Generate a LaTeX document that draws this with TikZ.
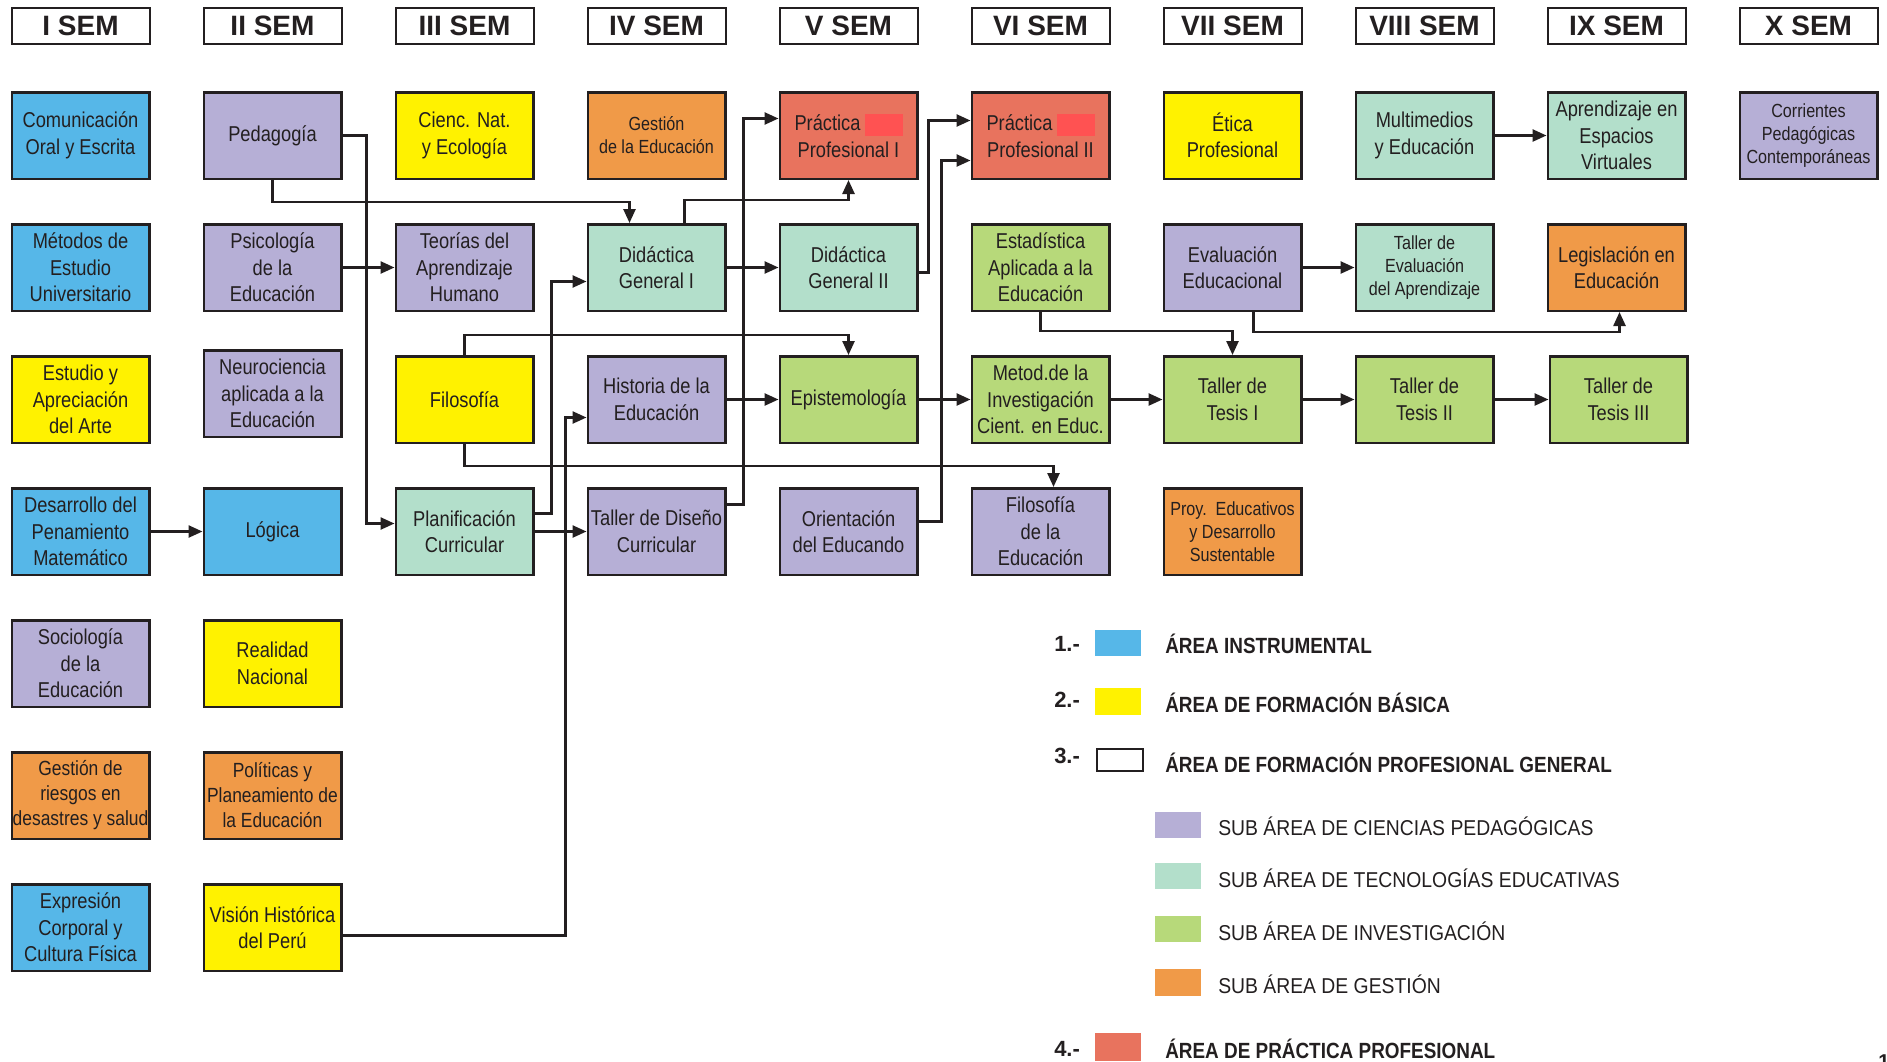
\documentclass[tikz,border=0pt]{standalone}
\usepackage{fontspec}
\setmainfont{Liberation Sans}[FakeStretch=0.85]
\newfontfamily\semfont{Liberation Sans}
\newfontfamily\leyfont{Liberation Sans}[FakeStretch=0.86]
\newfontfamily\subfont{Liberation Sans}[FakeStretch=0.9]
\usetikzlibrary{arrows.meta}

\definecolor{tinta}{HTML}{231F20}
\definecolor{azul}{HTML}{56B7E8}
\definecolor{amarillo}{HTML}{FFF200}
\definecolor{lila}{HTML}{B6AFD6}
\definecolor{menta}{HTML}{B3DFCB}
\definecolor{verde}{HTML}{B7D97A}
\definecolor{naranja}{HTML}{F09A48}
\definecolor{salmon}{HTML}{E8735E}
\definecolor{tapa}{HTML}{FF5252}

\begin{document}
\begin{tikzpicture}[x=1pt,y=-1pt,line width=2.5pt,color=tinta,
  >={Triangle[length=14pt,width=12pt]},
  sem/.style={draw,line width=2pt,fill=white,minimum width=138pt,minimum height=36pt,inner sep=0pt,
    font=\semfont\bfseries\fontsize{28}{30}\selectfont},
  curso/.style={draw,minimum width=137.5pt,minimum height=86.5pt,inner sep=0pt,align=center,
    font=\fontsize{21.5}{26.5}\selectfont},
  chico/.style={font=\fontsize{19}{23}\selectfont},
  medio/.style={font=\fontsize{20.5}{25}\selectfont},
  ley/.style={anchor=base west,inner sep=0pt,font=\leyfont\bfseries\fontsize{22}{26}\selectfont},
  subley/.style={anchor=base west,inner sep=0pt,font=\subfont\fontsize{21.5}{26}\selectfont},
  num/.style={anchor=base west,inner sep=0pt,font=\semfont\bfseries\fontsize{22}{26}\selectfont}]

\useasboundingbox (0,0) rectangle (1887,1061);

%% Semestres
\node [sem] (s1) at (80.5,26) {I SEM};
\node [sem] (s2) at (272.5,26) {II SEM};
\node [sem] (s3) at (464.5,26) {III SEM};
\node [sem] (s4) at (656.5,26) {IV SEM};
\node [sem] (s5) at (848.5,26) {V SEM};
\node [sem] (s6) at (1040.5,26) {VI SEM};
\node [sem] (s7) at (1232.5,26) {VII SEM};
\node [sem] (s8) at (1424.5,26) {VIII SEM};
\node [sem] (s9) at (1616.5,26) {IX SEM};
\node [sem] (s10) at (1808.5,26) {X SEM};

%% I SEM
\node [curso,fill=azul] (com) at (80.5,135.5) {Comunicación\\Oral y Escrita};
\node [curso,fill=azul] (metodos) at (80.5,267.5) {Métodos de\\Estudio\\Universitario};
\node [curso,fill=amarillo] (estudio) at (80.5,399.5) {Estudio y\\Apreciación\\del Arte};
\node [curso,fill=azul] (desarrollo) at (80.5,531.5) {Desarrollo del\\Penamiento\\Matemático};
\node [curso,fill=lila] (socio) at (80.5,663.5) {Sociología\\de la\\Educación};
\node [curso,fill=naranja,medio] (riesgos) at (80.5,795.5) {Gestión de\\riesgos en\\desastres y salud};
\node [curso,fill=azul] (expresion) at (80.5,927.5) {Expresión\\Corporal y\\Cultura Física};

%% II SEM
\node [curso,fill=lila] (ped) at (272.5,135.5) {Pedagogía};
\node [curso,fill=lila] (psico) at (272.5,267.5) {Psicología\\de la\\Educación};
\node [curso,fill=lila] (neuro) at (272.5,393.5) {Neurociencia\\aplicada a la\\Educación};
\node [curso,fill=azul] (logica) at (272.5,531.5) {Lógica};
\node [curso,fill=amarillo] (realidad) at (272.5,663.5) {Realidad\\Nacional};
\node [curso,fill=naranja,medio] (politicas) at (272.5,795.5) {Políticas y\\Planeamiento de\\la Educación};
\node [curso,fill=amarillo] (vision) at (272.5,927.5) {Visión Histórica\\del Perú};

%% III SEM
\node [curso,fill=amarillo] (cienc) at (464.5,135.5) {Cienc. Nat.\\y Ecología};
\node [curso,fill=lila] (teorias) at (464.5,267.5) {Teorías del\\Aprendizaje\\Humano};
\node [curso,fill=amarillo] (filo) at (464.5,399.5) {Filosofía};
\node [curso,fill=menta] (plan) at (464.5,531.5) {Planificación\\Curricular};

%% IV SEM
\node [curso,fill=naranja,chico] (gestion) at (656.5,135.5) {Gestión\\de la Educación};
\node [curso,fill=menta] (did1) at (656.5,267.5) {Didáctica\\General I};
\node [curso,fill=lila] (historia) at (656.5,399.5) {Historia de la\\Educación};
\node [curso,fill=lila] (tallerdc) at (656.5,531.5) {Taller de Diseño\\Curricular};

%% V SEM
\node [curso,fill=salmon] (prac1) at (848.5,135.5) {Práctica\hspace{4pt}{\color{tapa}\rule[-4.7pt]{38pt}{22pt}}\\Profesional I};
\node [curso,fill=menta] (did2) at (848.5,267.5) {Didáctica\\General II};
\node [curso,fill=verde] (episte) at (848.5,399.5) {Epistemología};
\node [curso,fill=lila] (orient) at (848.5,531.5) {Orientación\\del Educando};

%% VI SEM
\node [curso,fill=salmon] (prac2) at (1040.5,135.5) {Práctica\hspace{4pt}{\color{tapa}\rule[-4.7pt]{38pt}{22pt}}\\Profesional II};
\node [curso,fill=verde] (estad) at (1040.5,267.5) {Estadística\\Aplicada a la\\Educación};
\node [curso,fill=verde] (metod) at (1040.5,399.5) {Metod.de la\\Investigación\\Cient. en Educ.};
\node [curso,fill=lila] (filoedu) at (1040.5,531.5) {Filosofía\\de la\\Educación};

%% VII SEM
\node [curso,fill=amarillo] (etica) at (1232.5,135.5) {Ética\\Profesional};
\node [curso,fill=lila] (evalu) at (1232.5,267.5) {Evaluación\\Educacional};
\node [curso,fill=verde] (tesis1) at (1232.5,399.5) {Taller de\\Tesis I};
\node [curso,fill=naranja,chico] (proy) at (1232.5,531.5) {Proy.\ \ Educativos\\y Desarrollo\\Sustentable};

%% VIII SEM
\node [curso,fill=menta] (multi) at (1424.5,135.5) {Multimedios\\y Educación};
\node [curso,fill=menta,chico] (tallereval) at (1424.5,267.5) {Taller de\\Evaluación\\del Aprendizaje};
\node [curso,fill=verde] (tesis2) at (1424.5,399.5) {Taller de\\Tesis II};

%% IX SEM
\node [curso,fill=menta] (aprend) at (1616.5,135.5) {Aprendizaje en\\Espacios\\Virtuales};
\node [curso,fill=naranja] (legis) at (1616.5,267.5) {Legislación en\\Educación};
\node [curso,fill=verde] (tesis3) at (1618.5,399.5) {Taller de\\Tesis III};

%% X SEM
\node [curso,fill=lila,chico] (corr) at (1808.5,135.5) {Corrientes\\Pedagógicas\\Contemporáneas};

%% Flechas directas
\draw [->] (desarrollo) -- (logica);
\draw [->] (psico) -- (teorias);
\draw [->] (plan) -- (tallerdc);
\draw [->] (did1) -- (did2);
\draw [->] (historia) -- (episte);
\draw [->] (episte) -- (metod);
\draw [->] (metod) -- (tesis1);
\draw [->] (tesis1) -- (tesis2);
\draw [->] (tesis2) -- (tesis3);
\draw [->] (evalu) -- (tallereval);
\draw [->] (multi) -- (aprend);

%% Flechas con quiebre
\draw [->] (ped.east) -- ++(24,0) |- ([yshift=8pt]plan.west);
\draw [->] (ped.south) -- ++(0,22) -| ([xshift=-27pt]did1.north);
\draw [->] ([yshift=18pt]plan.east) -- ++(17,0) |- ([yshift=-14pt]did1.west);
\draw [->] ([yshift=-8pt]vision.east) -- ++(223,0) |- ([yshift=-18pt]historia.west);
\draw [->] (filo.north) -- ++(0,-20) -| (episte.north);
\draw [->] (filo.south) -- ++(0,22) -| ([xshift=13pt]filoedu.north);
\draw [->] ([xshift=28pt]did1.north) -- ++(0,-23) -| (prac1.south);
\draw [->] ([yshift=27pt]tallerdc.east) -- ++(17,0) |- ([yshift=17pt]prac1.west);
\draw [->] ([yshift=-5pt]did2.east) -- ++(10,0) |- ([yshift=15pt]prac2.west);
\draw [->] ([yshift=10pt]orient.east) -- ++(23,0) |- ([yshift=-25pt]prac2.west);
\draw [->] (estad.south) -- ++(0,19) -| (tesis1.north);
\draw [->] ([xshift=21pt]evalu.south) -- ++(0,20) -| ([xshift=3pt]legis.south);

%% Leyenda
\node [num] (n1) at (1053,651) {1.-};
\fill [azul] (1095,630) rectangle (1141,656);
\node [ley] (l1) at (1164,653) {ÁREA INSTRUMENTAL};

\node [num] (n2) at (1053,707) {2.-};
\fill [amarillo] (1095,688) rectangle (1141,715);
\node [ley] (l2) at (1164,712) {ÁREA DE FORMACIÓN BÁSICA};

\node [num] (n3) at (1053,763) {3.-};
\draw [line width=2pt,fill=white] (1097,749) rectangle (1143,771);
\node [ley] (l3) at (1164,772) {ÁREA DE FORMACIÓN PROFESIONAL GENERAL};

\fill [lila] (1155,812) rectangle (1201,838);
\node [subley] (sl1) at (1217,835) {SUB ÁREA DE CIENCIAS PEDAGÓGICAS};
\fill [menta] (1155,863) rectangle (1201,889);
\node [subley] (sl2) at (1217,887) {SUB ÁREA DE TECNOLOGÍAS EDUCATIVAS};
\fill [verde] (1155,916) rectangle (1201,942);
\node [subley] (sl3) at (1217,940) {SUB ÁREA DE INVESTIGACIÓN};
\fill [naranja] (1155,969) rectangle (1201,996);
\node [subley] (sl4) at (1217,993) {SUB ÁREA DE GESTIÓN};

\node [num] (n4) at (1053,1056) {4.-};
\fill [salmon] (1095,1033) rectangle (1141,1061);
\node [ley] (l4) at (1164,1058) {ÁREA DE PRÁCTICA PROFESIONAL};

%% numero de pagina
\node [num,font=\semfont\bfseries\fontsize{20}{20}\selectfont] (pag) at (1877,1068) {1};

\end{tikzpicture}
\end{document}
